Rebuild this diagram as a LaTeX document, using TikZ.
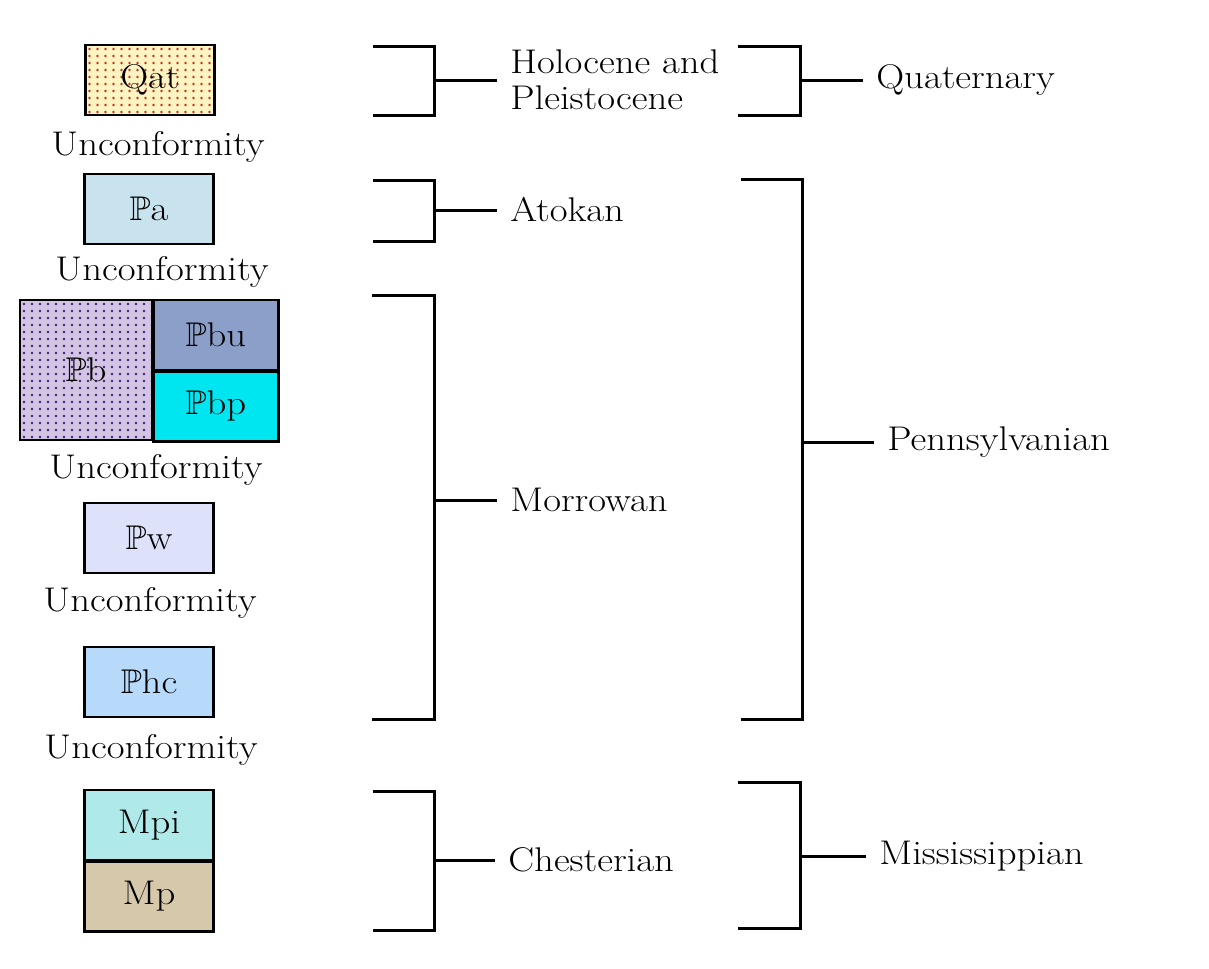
\documentclass[tikz,border=0pt]{standalone}
\usepackage{amsmath,amssymb}
\usepackage{fontspec}
\setmainfont{Latin Modern Roman}[FakeStretch=1.13]
\usepackage{tikz}
\definecolor{qatfill}{HTML}{FFF4C2}
\definecolor{qatdot}{HTML}{D0301E}
\definecolor{pafill}{HTML}{C8E3EE}
\definecolor{pbfill}{HTML}{D3C4E3}
\definecolor{pbdot}{HTML}{3A1E78}
\definecolor{pbufill}{HTML}{8C9FC8}
\definecolor{pbpfill}{HTML}{00E6F0}
\definecolor{pwfill}{HTML}{DDE2FA}
\definecolor{phcfill}{HTML}{B8DAFA}
\definecolor{mpifill}{HTML}{B0E9E9}
\definecolor{mpfill}{HTML}{D6C8AA}
\newcommand{\penn}{$\mathbb{P}$}

\begin{document}
\begin{tikzpicture}[x=0.02cm,y=-0.02cm,every node/.style={font=\fontsize{19.5}{20.5}\selectfont},unit/.style={draw,line width=1.6pt,inner sep=0pt,minimum width=2.58cm,minimum height=1.4cm},speckle/.style={path picture={\foreach \i in {0,...,17} \foreach \j in {0,...,19} \fill[#1] ([shift={(4+8*\i,4+7*\j)}]path picture bounding box.north west) circle[radius=0.026cm];}},uncon/.style={inner sep=0pt},period/.style={anchor=west,align=left,inner sep=0pt,inner xsep=0.26cm},brace/.style={line width=1.7pt}]
\useasboundingbox (0,0) rectangle (1209,968);
% map units
\node[unit,fill=qatfill,speckle=qatdot] (qat) at (150,80) {Qat};
\node[uncon] (u1) at (158,147) {Unconformity};
\node[unit,fill=pafill] (pa) at (149,209) {\penn a};
\node[uncon] (u2) at (162,272) {Unconformity};
\node[unit,fill=pbfill,speckle=pbdot,minimum width=2.64cm,minimum height=2.8cm] (pb) at (86,370) {\penn b};
\node[unit,fill=pbufill,anchor=north west,minimum width=2.5cm] (pbu) at ([xshift=-0.8pt]pb.north east) {\penn bu};
\node[unit,fill=pbpfill,anchor=north,minimum width=2.5cm] (pbp) at ([yshift=0.8pt]pbu.south) {\penn bp};
\node[uncon] (u3) at (156,470) {Unconformity};
\node[unit,fill=pwfill] (pw) at (149,538) {\penn w};
\node[uncon] (u4) at (150,603) {Unconformity};
\node[unit,fill=phcfill] (phc) at (149,682) {\penn hc};
\node[uncon] (u5) at (151,750) {Unconformity};
\node[unit,fill=mpifill] (mpi) at (149,825) {Mpi};
\node[unit,fill=mpfill,anchor=north] (mp) at ([yshift=0.8pt]mpi.south) {Mp};
% series
\node[period] (holo) at (497,80) {Holocene and\\Pleistocene};
\node[period] (atok) at (497,210) {Atokan};
\node[period] (morr) at (497,500) {Morrowan};
\node[period] (ches) at (495,860) {Chesterian};
\draw[brace] (373,46) -| (434,115) -- (373,115);
\draw[brace] (434,80) -- (holo.west);
\draw[brace] (373,180) -| (434,241) -- (373,241);
\draw[brace] (434,210) -- (atok.west);
\draw[brace] (372,295) -| (434,719) -- (372,719);
\draw[brace] (434,500) -- (morr.west);
\draw[brace] (373,791) -| (434,930) -- (373,930);
\draw[brace] (434,860) -- (ches.west);
% systems
\node[period] (quat) at (863,80) {Quaternary};
\node[period] (penn) at (874,442) {Pennsylvanian};
\node[period] (miss) at (866,856) {Mississippian};
\draw[brace] (738,46) -| (800,115) -- (738,115);
\draw[brace] (800,80) -- (quat.west);
\draw[brace] (741,179) -| (802,719) -- (741,719);
\draw[brace] (802,442) -- (penn.west);
\draw[brace] (738,782) -| (800,928) -- (738,928);
\draw[brace] (800,856) -- (miss.west);
\end{tikzpicture}
\end{document}
